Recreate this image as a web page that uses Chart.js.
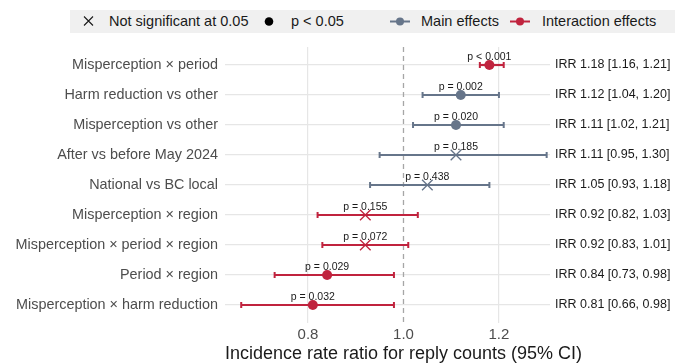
<!DOCTYPE html>
<html>
<head>
<meta charset="utf-8">
<script src="https://cdn.jsdelivr.net/npm/chart.js@4/dist/chart.umd.min.js"></script>
<style>
  html, body { margin: 0; padding: 0; background: #fff; }
  #wrap { position: relative; width: 682px; height: 363px; font-family: "Liberation Sans", Arial, sans-serif; }
  #legend { position: absolute; left: 70px; top: 10px; width: 605px; height: 23px; background: #f0f0f0;
            font-size: 14.5px; color: #1a1a1a; white-space: nowrap; }
  .it { position: absolute; top: 0; height: 23px; line-height: 23px; }
</style>
</head>
<body>
<div id="wrap">
  <canvas id="c" width="682" height="363"></canvas>
  <div id="legend">
    <svg class="it" style="left:12px;" width="14" height="23"><path d="M2 6.5 L11 15.5 M11 6.5 L2 15.5" stroke="#1a1a1a" stroke-width="1.1"/></svg>
    <span class="it" style="left:39px;">Not significant at 0.05</span>
    <svg class="it" style="left:193px;" width="12" height="23"><circle cx="6" cy="11.5" r="4.3" fill="#000"/></svg>
    <span class="it" style="left:221px;">p &lt; 0.05</span>
    <svg class="it" style="left:320px;" width="20" height="23"><line x1="0" y1="11.5" x2="20" y2="11.5" stroke="#66758a" stroke-width="2"/><circle cx="10" cy="11.5" r="4" fill="#66758a"/></svg>
    <span class="it" style="left:351px;">Main effects</span>
    <svg class="it" style="left:440px;" width="20" height="23"><line x1="0" y1="11.5" x2="20" y2="11.5" stroke="#c0233e" stroke-width="2"/><circle cx="10" cy="11.5" r="4" fill="#c0233e"/></svg>
    <span class="it" style="left:472px;">Interaction effects</span>
  </div>
</div>
<script>
const categories = [
  "Misperception × period",
  "Harm reduction vs other",
  "Misperception vs other",
  "After vs before May 2024",
  "National vs BC local",
  "Misperception × region",
  "Misperception × period × region",
  "Period × region",
  "Misperception × harm reduction"
];
const irr   = [1.18, 1.12, 1.11, 1.11, 1.05, 0.92, 0.92, 0.84, 0.81];
const lower = [1.16, 1.04, 1.02, 0.95, 0.93, 0.82, 0.83, 0.73, 0.66];
const upper = [1.21, 1.20, 1.21, 1.30, 1.18, 1.03, 1.01, 0.98, 0.98];
const pLabels = ["p < 0.001", "p = 0.002", "p = 0.020", "p = 0.185", "p = 0.438", "p = 0.155", "p = 0.072", "p = 0.029", "p = 0.032"];
const significant = [true, true, true, false, false, false, false, true, true];
const effectType = ["Interaction", "Main", "Main", "Main", "Main", "Interaction", "Interaction", "Interaction", "Interaction"];
const rightLabels = ["IRR 1.18 [1.16, 1.21]", "IRR 1.12 [1.04, 1.20]", "IRR 1.11 [1.02, 1.21]", "IRR 1.11 [0.95, 1.30]", "IRR 1.05 [0.93, 1.18]", "IRR 0.92 [0.82, 1.03]", "IRR 0.92 [0.83, 1.01]", "IRR 0.84 [0.73, 0.98]", "IRR 0.81 [0.66, 0.98]"];
const xTicks = [0.8, 1.0, 1.2];
const xTitle = "Incidence rate ratio for reply counts (95% CI)";

const MAIN = "#66758a", INTER = "#c0233e";
const colorFor = i => effectType[i] === "Main" ? MAIN : INTER;
const FONT = "'Liberation Sans', Arial, sans-serif";

const errorBars = {
  id: 'errorBars',
  beforeDatasetsDraw(chart) {
    const {ctx, scales: {x, y}, chartArea} = chart;
    ctx.save();
    ctx.strokeStyle = "#a6a6a6";
    ctx.lineWidth = 1.3;
    ctx.setLineDash([5, 4]);
    const x1 = x.getPixelForValue(1.0);
    ctx.beginPath(); ctx.moveTo(x1, chartArea.top); ctx.lineTo(x1, chartArea.bottom); ctx.stroke();
    ctx.setLineDash([]);
    categories.forEach((c, i) => {
      const yy = y.getPixelForValue(i);
      const xl = x.getPixelForValue(lower[i]), xh = x.getPixelForValue(upper[i]);
      ctx.strokeStyle = colorFor(i);
      ctx.lineWidth = 2.2;
      ctx.beginPath(); ctx.moveTo(xl, yy); ctx.lineTo(xh, yy); ctx.stroke();
      ctx.lineWidth = 2;
      ctx.beginPath();
      ctx.moveTo(xl, yy - 3); ctx.lineTo(xl, yy + 3);
      ctx.moveTo(xh, yy - 3); ctx.lineTo(xh, yy + 3);
      ctx.stroke();
    });
    ctx.restore();
  },
  afterDatasetsDraw(chart) {
    const {ctx, scales: {x, y}, chartArea} = chart;
    ctx.save();
    ctx.font = "10.5px " + FONT;
    ctx.fillStyle = "#1a1a1a";
    ctx.textAlign = "center";
    ctx.textBaseline = "middle";
    categories.forEach((c, i) => {
      ctx.fillText(pLabels[i], x.getPixelForValue(irr[i]), y.getPixelForValue(i) - 7.5);
    });
    // axis title
    ctx.font = "18px " + FONT;
    ctx.fillText(xTitle, (chartArea.left + chartArea.right) / 2 + 16, 354);
    ctx.restore();
  }
};

new Chart(document.getElementById('c'), {
  type: 'scatter',
  data: {
    datasets: [{
      data: irr.map((v, i) => ({x: v, y: i})),
      pointStyle: irr.map((v, i) => significant[i] ? 'circle' : 'cross'),
      rotation: irr.map((v, i) => significant[i] ? 0 : 45),
      pointRadius: irr.map((v, i) => significant[i] ? 5 : 7.5),
      pointBorderWidth: irr.map((v, i) => significant[i] ? 0 : 1.3),
      pointBackgroundColor: irr.map((v, i) => colorFor(i)),
      pointBorderColor: irr.map((v, i) => colorFor(i)),
      pointHoverRadius: irr.map((v, i) => significant[i] ? 5 : 7.5)
    }]
  },
  options: {
    responsive: false,
    animation: false,
    events: [],
    layout: { padding: { top: 47, bottom: 0, left: 0, right: 0 } },
    plugins: { legend: { display: false }, tooltip: { enabled: false } },
    scales: {
      x: {
        type: 'linear',
        min: 0.626,
        max: 1.307,
        afterBuildTicks: s => { s.ticks = xTicks.map(v => ({value: v})); },
        afterFit: s => { s.height = 40; },
        ticks: { color: "#4d4d4d", font: { family: FONT, size: 15 }, padding: 3, callback: v => v.toFixed(1) },
        grid: { color: ctx => (ctx.tick && Math.abs(ctx.tick.value - 1) < 1e-6) ? 'rgba(0,0,0,0)' : '#e6e6e6', lineWidth: 1.2, drawTicks: false },
        border: { display: false },
        title: { display: false }
      },
      y: {
        type: 'linear',
        min: -0.6,
        max: 8.6,
        reverse: true,
        afterBuildTicks: s => { s.ticks = categories.map((c, i) => ({value: i})); },
        afterFit: s => { s.width = 225; },
        ticks: { color: "#4d4d4d", font: { family: FONT, size: 14.4 }, padding: 7, callback: v => categories[v] },
        grid: { color: '#e6e6e6', lineWidth: 1.2, drawTicks: false },
        border: { display: false }
      },
      y2: {
        type: 'linear',
        position: 'right',
        min: -0.6,
        max: 8.6,
        reverse: true,
        afterBuildTicks: s => { s.ticks = rightLabels.map((c, i) => ({value: i})); },
        afterFit: s => { s.width = 132; },
        ticks: { color: "#1a1a1a", font: { family: FONT, size: 12.5 }, padding: 5, callback: v => rightLabels[v] },
        grid: { display: false, drawTicks: false },
        border: { display: false }
      }
    }
  },
  plugins: [errorBars]
});
</script>
</body>
</html>
